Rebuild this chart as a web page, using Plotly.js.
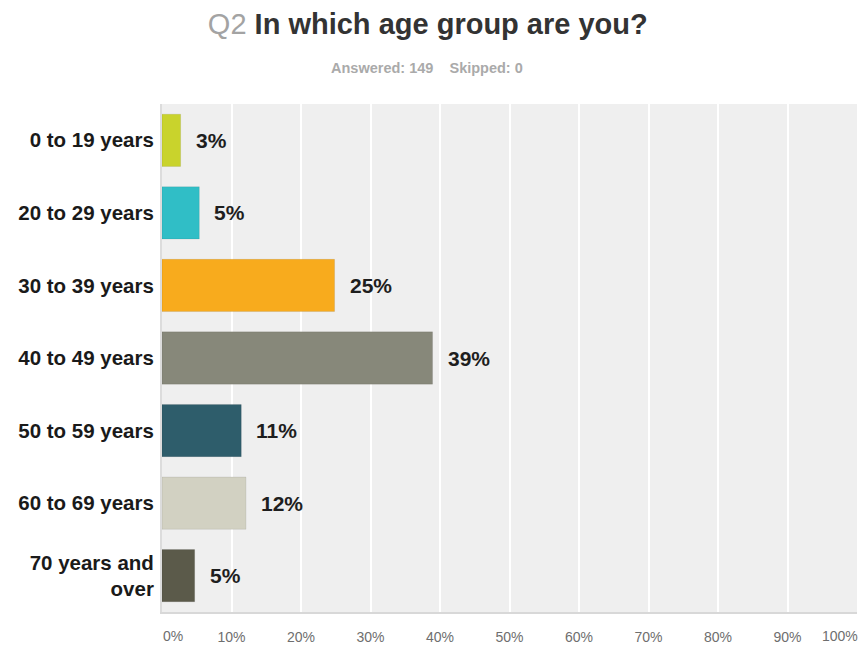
<!DOCTYPE html>
<html>
<head>
<meta charset="utf-8">
<script src="https://cdn.plot.ly/plotly-3.0.1.min.js"></script>
<style>
html,body{margin:0;padding:0;background:#fff;}
#chart{width:866px;height:646px;}
</style>
</head>
<body>
<div id="chart"></div>
<script>
var categories = ["0 to 19 years", "20 to 29 years", "30 to 39 years", "40 to 49 years", "50 to 59 years", "60 to 69 years", "70 years and<br>over"];
var percentValues = [2.68, 5.37, 24.83, 38.93, 11.41, 12.08, 4.70];
var valueLabels = ["3%", "5%", "25%", "39%", "11%", "12%", "5%"];
var barColors = ["#c9d32c", "#30bec6", "#f8ab1d", "#87887a", "#2e5d6b", "#d2d1c2", "#5b5a4a"];
var tickValues = [0, 10, 20, 30, 40, 50, 60, 70, 80, 90, 100];
var tickLabels = ["0%", "10%", "20%", "30%", "40%", "50%", "60%", "70%", "80%", "90%", "100%"];

var FONT = "Liberation Sans, Arial, sans-serif";

var trace = {
  type: "bar",
  orientation: "h",
  y: categories,
  x: percentValues,
  marker: {color: barColors, line: {color: "rgba(0,0,0,0.08)", width: 1}},
  hoverinfo: "none"
};

var annotations = [];
for (var i = 0; i < categories.length; i++) {
  annotations.push({
    x: percentValues[i], y: categories[i], xref: "x", yref: "y",
    text: "<b>" + valueLabels[i] + "</b>", showarrow: false,
    xanchor: "left", yanchor: "middle", xshift: 13,
    font: {family: FONT, size: 21, color: "#1e1e1e"}
  });
}
// edge tick labels are drawn shifted inward, as in the reference
annotations.push({
  x: tickValues[0], y: -0.047, xref: "x", yref: "paper", text: tickLabels[0],
  showarrow: false, xanchor: "left", yanchor: "middle", xshift: -1,
  font: {family: FONT, size: 14, color: "#6e6e6e"}
});
annotations.push({
  x: tickValues[tickValues.length - 1], y: -0.047, xref: "x", yref: "paper",
  text: tickLabels[tickLabels.length - 1], showarrow: false, xanchor: "right", yanchor: "middle", xshift: 3,
  font: {family: FONT, size: 14, color: "#6e6e6e"}
});
annotations.push({
  x: 0.382, y: 1.071, xref: "paper", yref: "paper", text: "<b>Answered: 149&nbsp;&nbsp;&nbsp;&nbsp;Skipped: 0</b>",
  showarrow: false, xanchor: "center", yanchor: "middle",
  font: {family: FONT, size: 14.5, color: "#aaaaaa"}
});

var shownTickText = tickLabels.map(function (t, k) {
  return (k === 0 || k === tickLabels.length - 1) ? "" : t;
});

var layout = {
  width: 866, height: 646,
  margin: {l: 162, r: 9, t: 104, b: 34, pad: 0},
  paper_bgcolor: "#ffffff",
  plot_bgcolor: "#efefef",
  showlegend: false,
  bargap: 0.28,
  title: {
    text: "<span style='color:#a3a3a3'>Q2</span> <b>In which age group are you?</b>",
    x: 0.494, xref: "container", xanchor: "center",
    y: 0.963, yref: "container", yanchor: "middle",
    font: {family: FONT, size: 29, color: "#333333"}
  },
  xaxis: {
    range: [0, 100], fixedrange: true,
    tickvals: tickValues, ticktext: shownTickText,
    showgrid: true, gridcolor: "#ffffff", gridwidth: 2,
    zeroline: false, ticks: "", ticklabelstandoff: 11,
    showline: true, linecolor: "#d8d8d8", linewidth: 2,
    tickfont: {family: FONT, size: 14, color: "#6e6e6e"}
  },
  yaxis: {
    autorange: "reversed", type: "category",
    showgrid: false, zeroline: false, ticks: "",
    showline: true, linecolor: "#dcdcdc", linewidth: 2,
    ticklabelstandoff: 2,
    tickfont: {family: FONT, size: 20.5, color: "#1a1a1a", weight: "bold"}
  },
  annotations: annotations
};

Plotly.newPlot("chart", [trace], layout, {displayModeBar: false, staticPlot: true});
</script>
</body>
</html>
